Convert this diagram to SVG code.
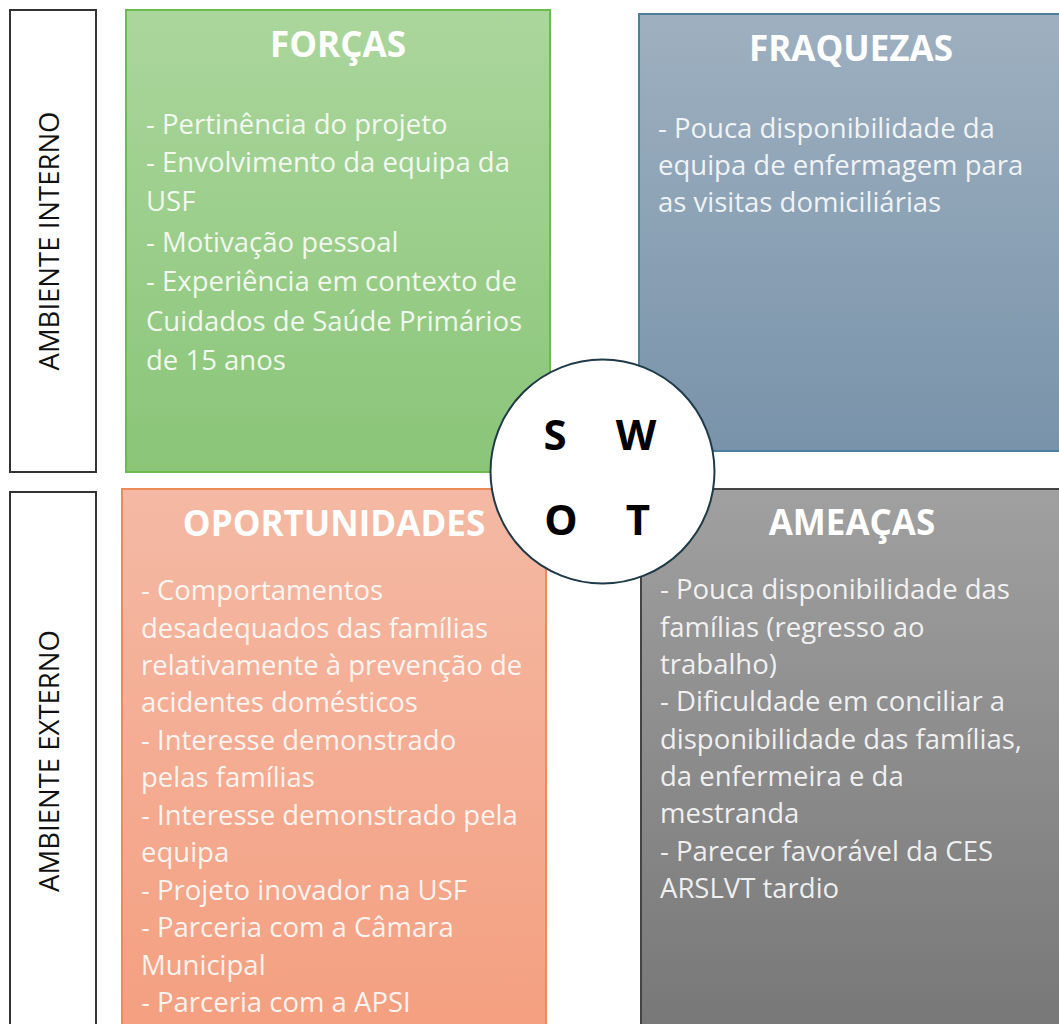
<svg xmlns="http://www.w3.org/2000/svg" width="1059" height="1024" viewBox="0 0 1059 1024">
<defs>
<linearGradient id="gG" x1="0" y1="0" x2="0" y2="1"><stop offset="0" stop-color="#abd69d"/><stop offset="1" stop-color="#8ac578"/></linearGradient>
<linearGradient id="gB" x1="0" y1="0" x2="0" y2="1"><stop offset="0" stop-color="#9eb0c0"/><stop offset="1" stop-color="#7993aa"/></linearGradient>
<linearGradient id="gO" x1="0" y1="0" x2="0" y2="1"><stop offset="0" stop-color="#f4b9a4"/><stop offset="1" stop-color="#f49f80"/></linearGradient>
<linearGradient id="gK" x1="0" y1="0" x2="0" y2="1"><stop offset="0" stop-color="#a0a0a0"/><stop offset="1" stop-color="#777777"/></linearGradient>
</defs>
<style>
.lbl{fill:#fff;stroke:#333;stroke-width:2}
.side{font-family:"Open Sans","Liberation Sans",sans-serif;font-size:27.5px;fill:#111;text-anchor:middle}
.title{font-family:"Open Sans","Liberation Sans",sans-serif;font-size:35px;font-weight:bold;fill:#fff;text-anchor:middle}
.body{font-family:"Open Sans","Liberation Sans",sans-serif;font-size:27.5px;fill:#fff;fill-opacity:0.88}
.big{font-family:"Open Sans","Liberation Sans",sans-serif;font-size:42px;font-weight:bold;fill:#000;text-anchor:middle}
</style>
<rect width="1059" height="1024" fill="#fff"/>
<g id="ambiente-interno">
<rect class="lbl" x="10" y="10" width="86" height="462"/>
<text class="side" transform="translate(59,241) rotate(-90)">AMBIENTE INTERNO</text>
</g>
<g id="ambiente-externo">
<rect class="lbl" x="10" y="492" width="86" height="545"/>
<text class="side" transform="translate(59,761) rotate(-90)">AMBIENTE EXTERNO</text>
</g>
<g id="forcas">
<rect x="126" y="10" width="424" height="462" fill="url(#gG)" stroke="#6cbb4e" stroke-width="2"/>
<text class="title" x="338" y="57">FORÇAS</text>
<text class="body" x="146" y="134">- Pertinência do projeto</text>
<text class="body" x="146" y="172">- Envolvimento da equipa da</text>
<text class="body" x="146" y="211">USF</text>
<text class="body" x="146" y="252">- Motivação pessoal</text>
<text class="body" x="146" y="291">- Experiência em contexto de</text>
<text class="body" x="146" y="331">Cuidados de Saúde Primários</text>
<text class="body" x="146" y="370">de 15 anos</text>
</g>
<g id="fraquezas">
<rect x="639" y="14" width="421" height="437" fill="url(#gB)" stroke="#4d7fa0" stroke-width="2"/>
<text class="title" x="851" y="61">FRAQUEZAS</text>
<text class="body" x="658" y="138">- Pouca disponibilidade da</text>
<text class="body" x="658" y="175">equipa de enfermagem para</text>
<text class="body" x="658" y="212">as visitas domiciliárias</text>
</g>
<g id="oportunidades">
<rect x="122" y="489" width="424" height="548" fill="url(#gO)" stroke="#ed8a5a" stroke-width="2"/>
<text class="title" x="334" y="536">OPORTUNIDADES</text>
<text class="body" x="141" y="600">- Comportamentos</text>
<text class="body" x="141" y="637.5">desadequados das famílias</text>
<text class="body" x="141" y="675">relativamente à prevenção de</text>
<text class="body" x="141" y="712">acidentes domésticos</text>
<text class="body" x="141" y="750">- Interesse demonstrado</text>
<text class="body" x="141" y="787">pelas famílias</text>
<text class="body" x="141" y="825">- Interesse demonstrado pela</text>
<text class="body" x="141" y="862">equipa</text>
<text class="body" x="141" y="900">- Projeto inovador na USF</text>
<text class="body" x="141" y="937">- Parceria com a Câmara</text>
<text class="body" x="141" y="975">Municipal</text>
<text class="body" x="141" y="1012">- Parceria com a APSI</text>
</g>
<g id="ameacas">
<rect x="641" y="489" width="419" height="548" fill="url(#gK)" stroke="#444" stroke-width="2"/>
<text class="title" x="852" y="535">AMEAÇAS</text>
<text class="body" x="660" y="599">- Pouca disponibilidade das</text>
<text class="body" x="660" y="636.5">famílias (regresso ao</text>
<text class="body" x="660" y="674">trabalho)</text>
<text class="body" x="660" y="711">- Dificuldade em conciliar a</text>
<text class="body" x="660" y="749">disponibilidade das famílias,</text>
<text class="body" x="660" y="786">da enfermeira e da</text>
<text class="body" x="660" y="823">mestranda</text>
<text class="body" x="660" y="861">- Parecer favorável da CES</text>
<text class="body" x="660" y="898">ARSLVT tardio</text>
</g>
<g id="swot">
<circle cx="602.5" cy="471.5" r="112" fill="#fff" stroke="#1f3a48" stroke-width="2"/>
<text class="big" x="555" y="450">S</text>
<text class="big" x="636" y="450">W</text>
<text class="big" x="561" y="535">O</text>
<text class="big" x="638" y="535">T</text>
</g>
<g id="connectors"/>
</svg>
